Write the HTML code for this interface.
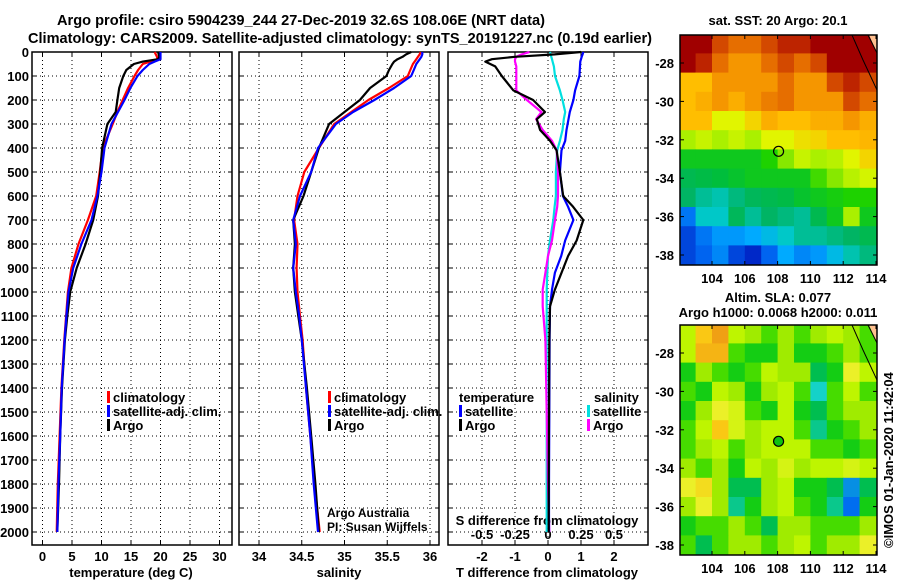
<!DOCTYPE html>
<html><head><meta charset="utf-8"><style>
body{margin:0;background:#fff;}
svg{display:block;font-family:"Liberation Sans",sans-serif;}
text{font-weight:bold;}
</style></head><body>
<svg id="chart" width="900" height="580" viewBox="0 0 900 580" xmlns="http://www.w3.org/2000/svg">
<rect width="900" height="580" fill="#fff"/>
<text x="57" y="25" font-size="15" textLength="488" lengthAdjust="spacingAndGlyphs">Argo profile: csiro 5904239_244 27-Dec-2019 32.6S 108.06E (NRT data)</text>
<text x="28" y="43" font-size="15" textLength="624" lengthAdjust="spacingAndGlyphs">Climatology: CARS2009. Satellite-adjusted climatology: synTS_20191227.nc (0.19d earlier)</text>
<g id="g"></g>
</svg>
<script>
// ---------- data ----------
const depths = [0,10,20,30,40,50,75,100,150,200,250,300,400,500,600,700,800,900,1000,1100,1200,1400,1600,1800,2000];
const tempArgo = [19.6,19.7,19.8,19.6,17.0,15.5,14.2,13.7,13.0,12.7,12.4,11.0,10.1,9.8,9.4,8.6,7.3,5.8,4.7,4.2,3.8,3.3,3.0,2.8,2.5];
const tempClim = [19.0,19.2,19.4,19.5,18.3,17.0,16.2,15.6,14.5,13.6,12.7,11.9,10.2,9.7,9.1,7.7,6.1,4.9,4.3,4.0,3.7,3.2,2.9,2.6,2.4];
const tempSat  = [20.0,20.0,20.0,20.0,19.0,18.1,17.0,16.1,14.9,13.9,12.8,11.7,10.5,10.0,9.3,8.3,6.6,5.2,4.4,4.05,3.75,3.25,3.0,2.7,2.5];
const salArgo = [35.78,35.72,35.68,35.62,35.58,35.56,35.52,35.49,35.30,35.18,35.00,34.82,34.70,34.61,34.52,34.40,34.42,34.40,34.42,34.46,34.50,34.56,34.61,34.66,34.70];
const salClim = [35.89,35.88,35.86,35.84,35.82,35.80,35.77,35.74,35.52,35.28,35.08,34.88,34.70,34.53,34.45,34.41,34.45,34.44,34.45,34.48,34.51,34.55,34.60,34.65,34.71];
const salSat  = [35.91,35.91,35.90,35.88,35.86,35.84,35.81,35.78,35.58,35.35,35.10,34.90,34.69,34.61,34.48,34.40,34.43,34.40,34.43,34.47,34.50,34.55,34.60,34.64,34.69];
const diffDepths = [0,10,20,30,40,60,100,160,200,250,280,325,370,410,500,600,645,700,785,850,920,990,1060,1200,1500,1800,2000];
const dTArgo = [1.0,0.2,-1.0,-1.7,-1.9,-1.6,-1.4,-1.05,-0.45,-0.09,-0.34,-0.24,0.06,0.26,0.36,0.46,0.76,1.07,0.87,0.61,0.41,0.21,0.06,0.04,0.03,0.02,0.02];
const dTSat  = [1.07,1.05,1.02,1.0,0.98,0.97,0.95,0.82,0.77,0.66,0.62,0.56,0.52,0.41,0.36,0.45,0.61,0.77,0.52,0.40,0.21,0.12,0.06,0.05,0.04,0.03,0.03];
const dSArgo = [-0.14,-0.2,-0.24,-0.25,-0.25,-0.24,-0.24,-0.24,-0.16,-0.05,-0.09,-0.04,0.03,0.066,0.076,0.076,0.07,0.053,0.03,0.0,-0.02,-0.04,-0.04,-0.02,-0.01,0.0,0.01];
const dSSat  = [0.015,0.02,0.025,0.03,0.035,0.045,0.053,0.09,0.11,0.13,0.12,0.11,0.09,0.07,0.06,0.06,0.05,0.04,0.015,0.0,-0.005,-0.01,-0.01,-0.01,-0.01,-0.01,-0.01];
const sstGrid = [
[23,23,22,21.5,21.5,22,22.5,22.5,23,23,23,23],
[23,22.5,21.5,21,21,21.5,22,21.5,22,23,23,23],
[20.5,20.5,21,21,21,21,21.5,21,21,22,22.5,22],
[20.5,20.7,21,20.7,21,21.3,21.5,21,21,21,22,21.5],
[20.5,20.5,20,20,20.3,20.7,20.5,20.5,20.7,20.7,21,20.7],
[19.6,19.8,19.6,19.8,19.6,20,20,20.2,20.3,20.5,20.5,20.6],
[19,19,19,19,19,19.2,19.5,19.8,19.6,19.7,20,20.3],
[18.6,18.7,18.8,18.9,19,19,19,19,19.3,19.5,19.7,19.9],
[18.4,18.2,18.1,18.3,18.5,18.6,18.7,18.9,19,19.1,19.2,19.2],
[17.3,18,18,18.5,18.2,18.4,18.3,18.2,18.6,19,19.6,19],
[17,17.3,17.5,17.5,17.6,17.8,18,18.2,18.2,18.3,18.4,18.6],
[17,17.2,17.4,17,16.8,17.2,17.6,17.4,17.5,17.8,18.1,18.3]];
const slaGrid = [
[0.6,0.8,0.9,0.6,0.55,0.5,0.55,0.5,0.55,0.6,0.55,0.5],
[0.6,0.85,0.85,0.5,0.45,0.45,0.55,0.45,0.45,0.5,0.55,0.5],
[0.45,0.55,0.5,0.45,0.5,0.6,0.55,0.55,0.4,0.45,0.7,0.6],
[0.5,0.45,0.6,0.55,0.45,0.55,0.6,0.5,0.3,0.5,0.6,0.5],
[0.45,0.55,0.7,0.65,0.5,0.45,0.6,0.45,0.4,0.5,0.55,0.55],
[0.5,0.6,0.8,0.65,0.55,0.6,0.6,0.5,0.35,0.45,0.5,0.55],
[0.5,0.55,0.6,0.5,0.55,0.6,0.6,0.6,0.5,0.5,0.45,0.5],
[0.55,0.5,0.55,0.45,0.6,0.55,0.65,0.55,0.6,0.6,0.65,0.6],
[0.7,0.75,0.55,0.4,0.4,0.55,0.6,0.45,0.45,0.4,0.2,0.4],
[0.55,0.7,0.55,0.35,0.45,0.55,0.6,0.5,0.45,0.35,0.15,0.45],
[0.45,0.5,0.5,0.55,0.5,0.4,0.55,0.55,0.5,0.5,0.5,0.55],
[0.5,0.4,0.5,0.55,0.55,0.5,0.55,0.6,0.5,0.55,0.55,0.7]];
const depthTicks = [0,100,200,300,400,500,600,700,800,900,1000,1100,1200,1300,1400,1500,1600,1700,1800,1900,2000];
const tempTicks = [0,5,10,15,20,25,30];
const salTicks = [34,34.5,35,35.5,36];
const salTickLabels = ["34","34.5","35","35.5","36"];
const dTTicks = [-2,-1,0,1,2];
const dSTicks = [-0.5,-0.25,0,0.25,0.5];
const dSTickLabels = ["-0.5","-0.25","0","0.25","0.5"];
const latTicks = [-28,-30,-32,-34,-36,-38];
const lonTicks = [104,106,108,110,112,114];
const argoLon = 108.06, argoLat = -32.6;

// ---------- axes ----------
const yD = d => 52 + d*0.24;
const xT = t => 42.5 + t*5.9;
const xS = s => 259 + (s-34)*85.5;
const xDT = v => 548 + v*33;
const xDS = v => 548 + v*132;
const xLon = l => 712 + (l-104)*16.4;
const yLat1 = l => 63 + (-28-l)*19.2;
const yLat2 = l => 353 + (-28-l)*19.2;

const NS="http://www.w3.org/2000/svg";
const G=document.getElementById('g');
function mk(tag, attrs, parent){const e=document.createElementNS(NS,tag);for(const k in attrs)e.setAttribute(k,attrs[k]);(parent||G).appendChild(e);return e;}
function txt(x,y,s,size,anchor,parent){const e=mk('text',{x:x,y:y,'font-size':size||12,'text-anchor':anchor||'start'},parent);e.textContent=s;return e;}

const panels=[{x0:32,x1:232,name:'temperature-panel'},{x0:239,x1:439,name:'salinity-panel'},{x0:448,x1:648,name:'difference-panel'}];
const Y0=52, Y1=545;
panels.forEach((p,i)=>{
  const grp=mk('g',{});
  
  
  depthTicks.forEach(d=>{
    const y=yD(d);
    mk('line',{x1:p.x0,x2:p.x1,y1:y,y2:y,stroke:'#000','stroke-width':1,'stroke-dasharray':'1,3'},grp);
    mk('line',{x1:p.x0,x2:p.x0+4,y1:y,y2:y,stroke:'#000'},grp);
    mk('line',{x1:p.x1-4,x2:p.x1,y1:y,y2:y,stroke:'#000'},grp);
  });
  let ticks, fx;
  if(i===0){ticks=tempTicks;fx=xT;} else if(i===1){ticks=salTicks;fx=xS;} else {ticks=dTTicks;fx=xDT;}
  ticks.forEach(t=>{
    const x=fx(t);
    mk('line',{x1:x,x2:x,y1:Y0,y2:Y1,stroke:'#000','stroke-width':1,'stroke-dasharray':'1,3'},grp);
    mk('line',{x1:x,x2:x,y1:Y1-4,y2:Y1,stroke:'#000'},grp);
    mk('line',{x1:x,x2:x,y1:Y0,y2:Y0+4,stroke:'#000'},grp);
  });
  mk('rect',{x:p.x0,y:Y0,width:p.x1-p.x0,height:Y1-Y0,fill:'none',stroke:'#000','stroke-width':1.5},grp);
});
const dl=mk('g',{});


depthTicks.forEach(d=>{txt(29,yD(d)+5,String(d),13,'end',dl);});
const xl=mk('g',{});


tempTicks.forEach(t=>txt(xT(t),561,String(t),13,'middle',xl));
salTicks.forEach((t,k)=>txt(xS(t),561,salTickLabels[k],13,'middle',xl));
dTTicks.forEach(t=>txt(xDT(t),561,String(t),13,'middle',xl));
dSTicks.forEach((t,k)=>txt(xDS(t),539,dSTickLabels[k],13,'middle',xl));
const t1=txt(131,577,'temperature (deg C)',13,'middle');


const t2=txt(339,577,'salinity',13,'middle');


const t3=txt(547,577,'T difference from climatology',13,'middle');


const t4=txt(547,525,'S difference from climatology',13,'middle');



function line(xs, ds, fx, color, name){
  const pts=xs.map((v,k)=>fx(v).toFixed(1)+','+yD(ds[k]).toFixed(1)).join(' ');
  const e=mk('polyline',{points:pts,fill:'none',stroke:color,'stroke-width':2.2,'stroke-linejoin':'round'});
  
  
}
line(tempClim,depths,xT,'#ff0000','temp-climatology-line');
line(tempArgo,depths,xT,'#000','temp-argo-line');
line(tempSat,depths,xT,'#0000ff','temp-satellite-line');
line(salClim,depths,xS,'#ff0000','sal-climatology-line');
line(salArgo,depths,xS,'#000','sal-argo-line');
line(salSat,depths,xS,'#0000ff','sal-satellite-line');
line(dSSat,diffDepths,xDS,'#00e0e0','s-diff-satellite-line');
line(dSArgo,diffDepths,xDS,'#ff00ff','s-diff-argo-line');
line(dTSat,diffDepths,xDT,'#0000ff','t-diff-satellite-line');
line(dTArgo,diffDepths,xDT,'#000','t-diff-argo-line');

function legend(x,y,color,label,name){
  const g=mk('g',{});
  
  
  mk('rect',{x:x,y:y-11,width:3,height:12,fill:color},g);
  txt(x+6,y,label,13,'start',g);
}
legend(107,402,'#ff0000','climatology','legend-temp-climatology');
legend(107,416,'#0000ff','satellite-adj. clim.','legend-temp-satellite');
legend(107,430,'#000','Argo','legend-temp-argo');
legend(328,402,'#ff0000','climatology','legend-sal-climatology');
legend(328,416,'#0000ff','satellite-adj. clim.','legend-sal-satellite');
legend(328,430,'#000','Argo','legend-sal-argo');
txt(459,402,'temperature',13,'start');
legend(459,416,'#0000ff','satellite','legend-dt-satellite');
legend(459,430,'#000','Argo','legend-dt-argo');
txt(594,402,'salinity',13,'start');
legend(587,416,'#00e0e0','satellite','legend-ds-satellite');
legend(587,430,'#ff00ff','Argo','legend-ds-argo');
const c1=mk('text',{x:327,y:517,'font-size':12,'font-weight':'normal'});c1.textContent='Argo Australia';


const c2=mk('text',{x:327,y:531,'font-size':12,'font-weight':'normal'});c2.textContent='PI: Susan Wijffels';



// ---------- maps ----------
function lerpColor(stops, v){
  if(v<=stops[0][0])return stops[0][1];
  for(let k=1;k<stops.length;k++){
    if(v<=stops[k][0]){
      const a=stops[k-1],b=stops[k],f=(v-a[0])/(b[0]-a[0]);
      const ca=a[1],cb=b[1];
      return [0,1,2].map(j=>Math.round(ca[j]+(cb[j]-ca[j])*f));
    }
  }
  return stops[stops.length-1][1];
}
function rgbArr(c){return 'rgb('+c.join(',')+')';}
const sstStops=[[16.8,[0,40,200]],[17.2,[0,100,240]],[17.6,[0,170,255]],[18.0,[0,200,200]],[18.4,[0,180,100]],[18.8,[0,190,60]],[19.2,[30,210,0]],[19.6,[170,240,0]],[20.0,[225,245,0]],[20.5,[255,190,0]],[21.0,[245,150,0]],[21.5,[230,110,0]],[22.3,[200,50,0]],[23,[160,0,0]]];
const slaStops=[[0.15,[0,110,240]],[0.3,[20,210,200]],[0.4,[0,190,80]],[0.45,[20,205,20]],[0.5,[70,220,0]],[0.55,[160,235,0]],[0.6,[190,245,0]],[0.7,[235,240,40]],[0.8,[250,200,20]],[0.9,[240,160,20]]];
function drawMap(grid, stops, fy, top, name, markerFill){
  const g=mk('g',{});
  
  
  const x0=680,x1=877,y0=top,y1=top+230;
  const cp=mk('clipPath',{id:name+'-clip'},g);
  mk('rect',{x:x0,y:y0,width:x1-x0,height:y1-y0},cp);
  const cg=mk('g',{'clip-path':'url(#'+name+'-clip)'},g);
  grid.forEach((row,r)=>{
    row.forEach((v,c)=>{
      const lonA=102+c, latA=-26.5-r;
      const x=xLon(lonA), y=fy(latA);
      const cell=mk('rect',{x:x,y:y,width:xLon(lonA+1)-x+0.5,height:fy(latA-1)-y+0.5,fill:rgbArr(lerpColor(stops,v))},cg);
      
      
    });
  });
  mk('polygon',{points:(x1-8)+','+y0+' '+x1+','+y0+' '+x1+','+(y0+18),fill:'#ffc090'},cg);
  mk('polyline',{points:(x1-25)+','+y0+' '+(x1-14)+','+(y0+25)+' '+(x1-7)+','+(y0+40)+' '+x1+','+(y0+55),fill:'none',stroke:'#000','stroke-width':1},cg);
  mk('polyline',{points:(x1-9)+','+y0+' '+x1+','+(y0+18),fill:'none',stroke:'#000','stroke-width':1},cg);
  mk('rect',{x:x0,y:y0,width:x1-x0,height:y1-y0,fill:'none',stroke:'#000','stroke-width':1.5},g);
  latTicks.forEach(l=>{
    const y=fy(l);
    mk('line',{x1:x0,x2:x0+4,y1:y,y2:y,stroke:'#000'},g);
    mk('line',{x1:x1-4,x2:x1,y1:y,y2:y,stroke:'#000'},g);
    txt(674,y+5,String(l),13,'end',g);
  });
  lonTicks.forEach(l=>{
    const x=xLon(l);
    mk('line',{x1:x,x2:x,y1:y1-4,y2:y1,stroke:'#000'},g);
    mk('line',{x1:x,x2:x,y1:y0,y2:y0+4,stroke:'#000'},g);
    txt(x,y1+18,String(l),13,'middle',g);
  });
  const m=mk('circle',{cx:xLon(argoLon),cy:fy(argoLat),r:5,fill:markerFill,stroke:'#000','stroke-width':1.2},g);
  
  
}
drawMap(sstGrid,sstStops,yLat1,35,'sst-map','none');
drawMap(slaGrid,slaStops,yLat2,325,'sla-map','#10c010');
const m1=txt(778,25,'sat. SST: 20 Argo: 20.1',13,'middle');


const m2=txt(778,302,'Altim. SLA: 0.077',13,'middle');


const m3=txt(778,317,'Argo h1000: 0.0068 h2000: 0.011',13,'middle');


const cr=mk('text',{x:0,y:0,'font-size':13,'font-weight':'normal',transform:'translate(893,548) rotate(-90)'});
cr.textContent='©IMOS 01-Jan-2020 11:42:04';


</script>
</body></html>
